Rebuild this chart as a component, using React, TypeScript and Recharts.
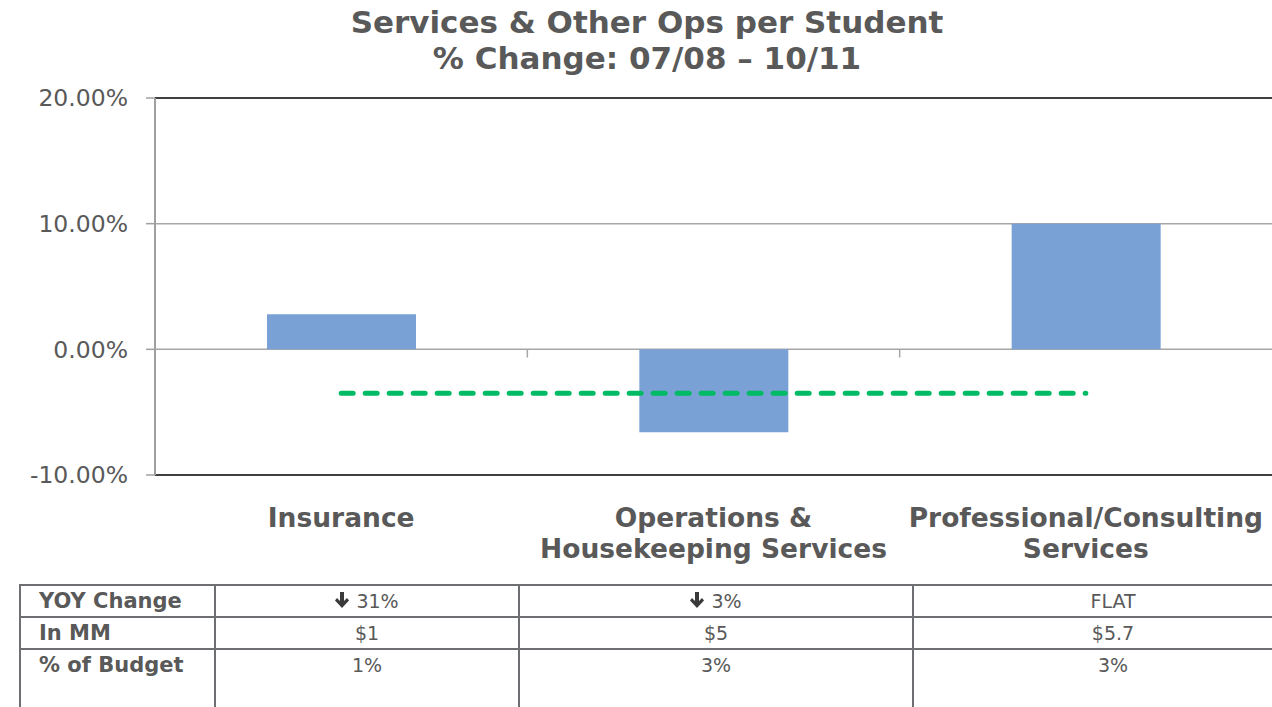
import { Bar, CartesianGrid, ComposedChart, Line, ReferenceLine, XAxis, YAxis } from "recharts";

const categories = ["Insurance", "Operations &\nHousekeeping Services", "Professional/Consulting\nServices"];
const pctChange = [2.8, -6.6, 10.0];
const average = [-3.5, -3.5, -3.5];
const yTicks = [-10, 0, 10, 20];

const rowLabels = ["YOY Change", "In MM", "% of Budget"];
const yoyChange = ["31%", "3%", "FLAT"];
const yoyDown = [true, true, false];
const inMM = ["$1", "$5", "$5.7"];
const pctBudget = ["1%", "3%", "3%"];

const TEXT = "#595959";
const FONT = "'DejaVu Sans', Verdana, sans-serif";

const data = categories.map((name, i) => ({ name, pct: pctChange[i], avg: average[i] }));

function CategoryTick({ x, y, payload }: { x?: number; y?: number; payload?: { value: string } }) {
  const lines = String(payload?.value ?? "").split("\n");
  return (
    <text x={x} y={(y ?? 0) + 52} textAnchor="middle" fill={TEXT} fontFamily={FONT} fontWeight="bold" fontSize={26.5}>
      {lines.map((l, i) => (
        <tspan key={i} x={x} dy={i === 0 ? 0 : 31}>
          {l}
        </tspan>
      ))}
    </text>
  );
}

function DownArrow() {
  return (
    <svg width={14} height={17} viewBox="0 0 14 17" style={{ verticalAlign: "-1px", marginRight: 7 }}>
      <path d="M5 0 H9 V9 L12 6 L14 8.5 L7 16 L0 8.5 L2 6 L5 9 Z" fill="#3a3a3a" />
    </svg>
  );
}

const colWidths = [195, 304, 394, 400];
const rowHeights = [32, 32, 70];

function StatsTable() {
  const rows = [
    yoyChange.map((v, i) => (
      <span key={i}>
        {yoyDown[i] ? <DownArrow /> : null}
        {v}
      </span>
    )),
    inMM,
    pctBudget,
  ];
  const cells: JSX.Element[] = [];
  let top = 0;
  rows.forEach((vals, r) => {
    let left = 0;
    [rowLabels[r], ...vals].forEach((c, ci) => {
      cells.push(
        <div
          key={`${r}-${ci}`}
          style={{
            position: "absolute",
            left: left - 1,
            top: top - 1,
            width: colWidths[ci] + 2,
            height: rowHeights[r] + 2,
            boxSizing: "border-box",
            border: "2px solid #6d6f73",
            lineHeight: "30px",
            fontSize: ci === 0 ? 21 : 19,
            fontWeight: ci === 0 ? "bold" : "normal",
            color: TEXT,
            textAlign: ci === 0 ? "left" : "center",
            paddingLeft: ci === 0 ? 18 : 0,
          }}
        >
          {c}
        </div>
      );
      left += colWidths[ci];
    });
    top += rowHeights[r];
  });
  return <div style={{ position: "absolute", left: 20, top: 585, fontFamily: FONT }}>{cells}</div>;
}

export default function App() {
  return (
    <div style={{ position: "absolute", left: 0, top: 0, width: 1272, height: 707, overflow: "hidden", background: "#fff" }}>
      <div
        style={{
          position: "absolute",
          left: 0,
          top: 4,
          width: 1294,
          textAlign: "center",
          fontFamily: FONT,
          fontWeight: "bold",
          fontSize: 31,
          lineHeight: "36px",
          color: TEXT,
        }}
      >
        Services &amp; Other Ops per Student
        <br />% Change: 07/08 – 10/11
      </div>
      <div style={{ position: "absolute", left: 0, top: 0 }}>
        <ComposedChart width={1272} height={570} data={data} margin={{ top: 98, right: 0, left: 0, bottom: 0 }}>
          <CartesianGrid vertical={false} stroke="#a6a6a6" strokeWidth={1.5} />
          <XAxis dataKey="name" height={95} axisLine={false} tickLine={false} tickSize={0} tickMargin={0} interval={0} tick={<CategoryTick />} />
          <YAxis
            width={155}
            domain={[-10, 20]}
            ticks={yTicks}
            allowDataOverflow
            tickFormatter={(v: number) => `${v.toFixed(2)}%`}
            tick={{ fill: TEXT, fontSize: 23.5, fontFamily: FONT }}
            axisLine={{ stroke: "#a0a0a0", strokeWidth: 2 }}
            tickLine={{ stroke: "#a0a0a0", strokeWidth: 1.5 }}
            tickSize={9}
            tickMargin={18}
          />
          <ReferenceLine y={20} stroke="#3f3f3f" strokeWidth={2} />
          <ReferenceLine y={-10} stroke="#3f3f3f" strokeWidth={2} />
          {categories.slice(1).map((c) => (
            <ReferenceLine
              key={c}
              position="start"
              segment={[
                { x: c, y: 0 },
                { x: c, y: -0.65 },
              ]}
              stroke="#a6a6a6"
              strokeWidth={1.5}
            />
          ))}
          <Bar dataKey="pct" fill="#7aa1d6" barSize={149} isAnimationActive={false} />
          <Line
            dataKey="avg"
            stroke="#00bb63"
            strokeWidth={5}
            strokeDasharray="12 12"
            strokeLinecap="round"
            dot={false}
            activeDot={false}
            isAnimationActive={false}
          />
        </ComposedChart>
      </div>
      <StatsTable />
    </div>
  );
}
